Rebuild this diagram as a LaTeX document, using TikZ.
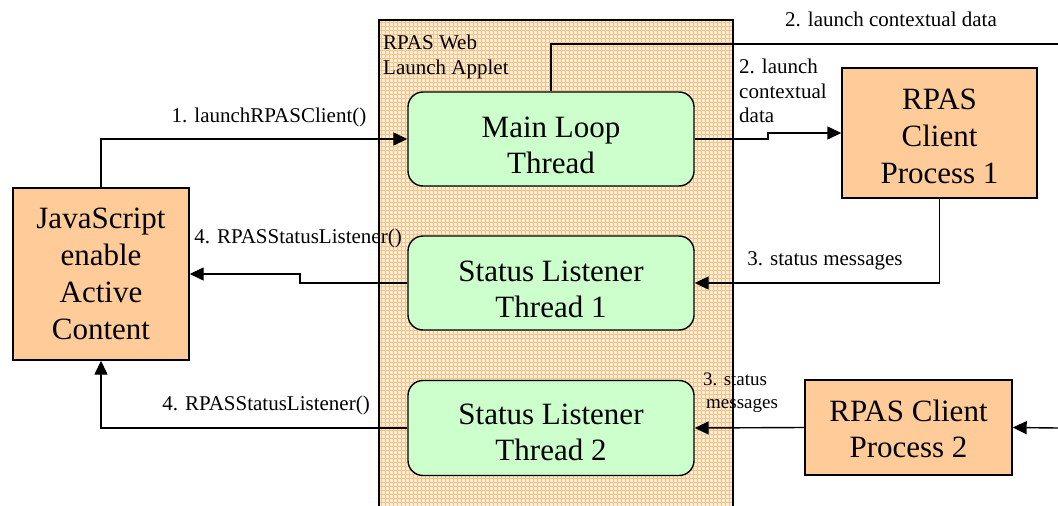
\documentclass[tikz,border=0pt]{standalone}
\usepackage{fontspec}
\setmainfont{Liberation Serif}
\usetikzlibrary{arrows.meta}
\definecolor{boxorange}{HTML}{FFCC99}
\definecolor{boxgreen}{HTML}{CCFFCC}
\definecolor{panelbg}{HTML}{FFEBD0}
\definecolor{panelline}{HTML}{FBC27E}
\newcommand{\boxtext}[2]{\raisebox{-#1}[0pt][0pt]{\begin{tabular}{@{}c@{}}#2\end{tabular}}}
\tikzset{
  conn/.style={line width=1.4pt},
  arr/.style={conn,-{Triangle[length=14pt,width=13pt]}},
  thread/.style={draw,line width=1.4pt,fill=boxgreen,rounded corners=15pt,
    minimum width=286pt,minimum height=94pt,font=\fontsize{31}{36}\selectfont,inner sep=0pt},
  proc/.style={draw,line width=1.4pt,fill=boxorange,align=center,inner sep=0pt,
    font=\fontsize{31}{37}\selectfont},
  lbl/.style={font=\fontsize{21}{24.5}\selectfont,inner sep=0pt},
}
\begin{document}
\begin{tikzpicture}[x=1pt,y=-1pt]
\useasboundingbox (0,0) rectangle (1058,506);
% applet panel
\fill[panelbg] (379,20) rectangle (733,506);
\foreach \x in {381,385,...,731} \draw[panelline,line width=1pt] (\x,20) -- (\x,506);
\foreach \y in {22,26,...,506} \draw[panelline,line width=1pt] (379,\y) -- (733,\y);
\draw[line width=1.4pt] (379,506) -- (379,20) -- (733,20) -- (733,506);
\node[lbl,align=left,anchor=north west] (applet) at (383,35) {RPAS Web\\Launch Applet};
% threads
\node[thread] (main) at (551,139) {\boxtext{16pt}{Main Loop\\Thread}};
\node[thread] (sl1) at (551,283) {\boxtext{16pt}{Status Listener\\Thread 1}};
\node[thread,minimum height=95pt] (sl2) at (551,428) {\boxtext{14pt}{Status Listener\\Thread 2}};
% processes
\node[proc,minimum width=176pt,minimum height=172pt] (js) at (101,274) {JavaScript\\enable\\Active\\Content};
\node[proc,minimum width=195pt,minimum height=130pt] (c1) at (939.5,133) {\boxtext{12pt}{RPAS\\Client\\Process 1}};
\node[proc,minimum width=207pt,minimum height=95pt,font=\fontsize{31}{36}\selectfont] (c2) at (908.5,427.5) {\boxtext{11pt}{RPAS Client\\Process 2}};
% free ends
\coordinate (e1) at (1058,44);
\coordinate (e2) at (1058,428);
\coordinate (b1) at (768,139);
\coordinate (b2) at (300,283);
% connectors
\draw[arr] (js.north) |- (main.west);
\draw[arr] (main.east) -- (b1) |- (c1.west);
\draw[conn] (main.north) |- (e1);
\draw[arr] (c1.south) |- (sl1.east);
\draw[arr] (sl1.west) -- (b2) |- (js.east);
\draw[arr] (sl2.west) -| (js.south);
\draw[arr] (c2.west) -- (sl2.east);
\draw[arr] (e2) -- (c2.east);
% labels
\node[lbl] (l1) at (269,117) {1. launchRPASClient()};
\node[lbl] (l2a) at (891,19) {2. launch contextual data};
\node[lbl,align=left,anchor=north west] (l2b) at (739,59) {2. launch\\contextual\\data};
\node[lbl] (l3a) at (825,261) {3. status messages};
\node[lbl] (l4a) at (298,238) {4. RPASStatusListener()};
\node[lbl] (l4b) at (266,405) {4. RPASStatusListener()};
\node[lbl,align=left,anchor=north west,font=\fontsize{19}{23}\selectfont] (l3b) at (703,373) {3. status\\\hspace*{3pt}messages};
\end{tikzpicture}
\end{document}
